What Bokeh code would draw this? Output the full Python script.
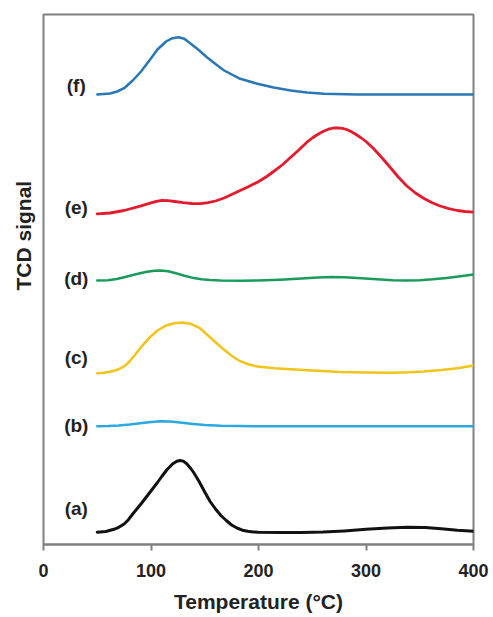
from bokeh.plotting import figure
from bokeh.models import Range1d, FixedTicker, Title
from bokeh.core.properties import value
from bokeh.embed import file_html
from bokeh.resources import INLINE

# ---- data (temperature in °C, TCD signal in arbitrary offset units) ----
temp_a = [50, 58, 65.5, 70, 75, 79, 83, 87, 91, 98.5, 106, 110, 115, 120, 124, 127, 130, 133, 137, 140, 145, 150, 155, 160, 165, 170, 175, 180, 185, 190, 195, 200, 220, 240, 260, 280, 300, 320, 338, 355, 370, 385, 400]
sig_a = [12.3, 13, 15.2, 17.2, 20.5, 24.8, 30.5, 35.8, 41, 51.5, 62, 68, 75, 80.5, 83.2, 84, 83.4, 81, 76, 71.5, 62.5, 52.5, 43, 35.5, 29, 24, 19.5, 16.5, 14.3, 13.2, 12.6, 12.3, 12, 12, 12.4, 13.6, 15.2, 16.6, 17.3, 16.9, 15.7, 14.3, 13.3]

temp_b = [50, 60, 70, 80, 90, 100, 109, 118, 127, 137, 150, 165, 200, 300, 400]
sig_b = [118.3, 118.5, 119, 120, 121.3, 122.6, 123.3, 123, 122, 120.8, 119.5, 118.7, 118.3, 118.3, 118.3]

temp_c = [50, 56, 62, 68, 72, 76, 80, 85, 90.7, 98.5, 106, 114, 121.7, 129, 137, 145, 152, 160, 168, 176, 183, 191, 199, 215, 230, 250, 276, 300, 323, 340, 354, 370, 385, 400]
sig_c = [171.3, 171.8, 172.8, 174.5, 176.3, 179, 183, 189.5, 197.3, 206.7, 214, 219, 221.3, 222, 220.7, 216.7, 210, 202.3, 194.7, 188, 183.3, 180, 178, 176.3, 175.2, 174, 172.6, 172, 171.8, 172.2, 173, 174.4, 176.3, 179]

temp_d = [50, 60, 68, 75, 85, 95, 103, 109, 116, 124, 132, 140, 147, 155, 165, 185, 199, 220, 240, 255, 268, 280, 292, 310, 325, 338, 350, 362, 375, 388, 400]
sig_d = [264, 264.3, 265.5, 267.3, 270, 272.5, 273.8, 274, 273.2, 271, 268.5, 266.4, 265.2, 264.4, 264, 263.8, 264, 264.8, 266, 267, 267.4, 267.2, 266.6, 265.3, 264.3, 264, 264.3, 265.2, 266.6, 268.3, 270]

temp_e = [50, 62, 75, 90, 100, 105, 110, 116, 122, 130, 138, 146, 153, 160, 168, 175, 183, 190, 199, 207, 214, 222, 230, 238, 245, 250, 255, 260, 265, 270, 274, 278, 282, 286, 290, 295, 300, 307, 315, 323, 330, 338, 346, 354, 362, 369, 377, 385, 392, 400]
sig_e = [330.7, 331.5, 334, 338.3, 341.6, 343.2, 344, 343.8, 343, 341.8, 341, 340.8, 341.8, 343.5, 346.5, 350, 354, 357.5, 362.3, 367.5, 373, 379.5, 387.3, 395, 402.3, 406.5, 410, 413, 415.3, 416.5, 416.7, 416.2, 415, 413, 410.5, 407, 403, 396, 386.5, 376.5, 367.5, 358.5, 351.5, 346, 341.5, 338.5, 335.8, 334, 333, 332.3]

temp_f = [50, 62, 68.5, 75, 83, 90.7, 98.5, 106, 114, 120, 125.6, 131, 137, 143, 152, 160, 168, 183, 199, 214, 230, 245, 261, 292, 320, 360, 400]
sig_f = [450, 451, 453, 456.3, 464, 473, 484, 495, 503, 506.3, 507.3, 505.7, 500.7, 495.7, 487.3, 480.5, 474, 465.7, 460.7, 457, 454, 452, 450.7, 450, 450, 450, 450]

curve_names = ["(a)", "(b)", "(c)", "(d)", "(e)", "(f)"]
curve_label_y = [36, 119, 187, 266, 337, 459]
x_ticks = [0, 100, 200, 300, 400]

colors = ["#111111", "#2aa9e0", "#f2c318", "#1a9b5b", "#e31b2c", "#2a77b5"]
widths = [3, 2.5, 2.5, 2.5, 2.8, 2.5]

FONT = "Liberation Sans"

p = figure(width=493, height=617, output_backend="svg", toolbar_location=None,
           x_range=Range1d(0, 400), y_range=Range1d(0, 530),
           y_axis_location=None,
           min_border_left=43, min_border_top=14, min_border_right=20, min_border_bottom=73)
p.background_fill_color = "white"
p.border_fill_color = "white"
p.grid.visible = False
p.outline_line_color = "#808080"
p.outline_line_width = 2

ax = p.xaxis[0]
ax.ticker = FixedTicker(ticks=x_ticks)
ax.minor_tick_line_color = None
ax.axis_line_color = "#808080"
ax.axis_line_width = 2
ax.major_tick_line_color = "#808080"
ax.major_tick_line_width = 2
ax.major_tick_in = 0
ax.major_tick_out = 6
ax.major_label_standoff = 13
ax.major_label_text_font = FONT
ax.major_label_text_font_style = "bold"
ax.major_label_text_font_size = "18px"
ax.major_label_text_color = "#222222"
ax.axis_label = "Temperature (°C)"
ax.axis_label_text_font = FONT
ax.axis_label_text_font_style = "bold"
ax.axis_label_text_font_size = "21px"
ax.axis_label_text_color = "#222222"
ax.axis_label_standoff = 10

series = [(temp_a, sig_a), (temp_b, sig_b), (temp_c, sig_c), (temp_d, sig_d), (temp_e, sig_e), (temp_f, sig_f)]
for (tx, sy), c, w in zip(series, colors, widths):
    p.line(tx, sy, line_color=c, line_width=w, line_join="round", line_cap="round")

p.text(x=[30.5] * 6, y=curve_label_y, text=curve_names, text_font=value(FONT),
       text_font_style="bold", text_font_size="19px", text_color="#222222",
       text_align="center", text_baseline="middle")

ytitle = Title(text="TCD signal", align="left", offset=254, standoff=18,
               text_font=FONT, text_font_style="bold", text_font_size="21px",
               text_color="#222222")
p.add_layout(ytitle, "left")

open("out.html", "w").write(file_html(p, INLINE))
